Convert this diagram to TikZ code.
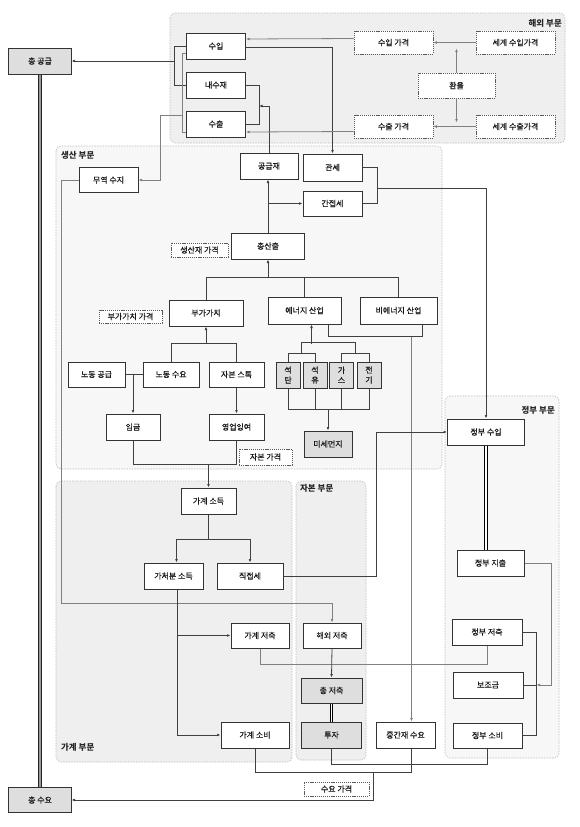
\documentclass[tikz,border=0pt]{standalone}
\usepackage{fontspec}
\setmainfont{Noto Sans CJK KR}
\newfontfamily\krmed[FakeBold=0.5]{Noto Sans CJK KR}
\usetikzlibrary{arrows.meta,calc}
\definecolor{regA}{HTML}{EFEFEF}
\definecolor{regB}{HTML}{F7F7F7}
\definecolor{gfill}{HTML}{DEDEDE}
\definecolor{txt}{HTML}{1A1A1A}
\newcommand{\mynodefont}{\krmed\fontsize{8}{10}\selectfont}
\newcommand{\mylabelfont}{\fontsize{8.5}{10}\selectfont\bfseries}
\begin{document}
\begin{tikzpicture}[x=1bp,y=-1bp,
  box/.style={draw=black!80, line width=1bp, fill=white, inner sep=0pt, font=\mynodefont, text=txt},
  gbox/.style={box, fill=gfill},
  pbox/.style={draw=black!65, dash pattern=on 1.2bp off 0.9bp, line width=0.6bp, fill=white, inner sep=0pt, font=\mynodefont, text=txt},
  region/.style={draw=black!25, dash pattern=on 1.5bp off 1.2bp, line width=0.6bp, rounded corners=5bp},
  dk/.style={draw=black!75, line width=0.8bp},
  lt/.style={draw=black!50, line width=0.8bp},
  arr/.style={-{Latex[length=3.5bp,width=2.8bp]}},
  dbl/.style={draw=black, line width=0.8bp, double=white, double distance=1.6bp},
  dblg/.style={draw=black!85, line width=0.7bp, double=black!40, double distance=2.2bp},
  rlabel/.style={font=\mylabelfont, text=black!85, inner sep=0pt},
  sz/.style 2 args={minimum width=#1bp, minimum height=#2bp},
]
\useasboundingbox (0,0) rectangle (580,827);
\fill[white] (0,0) rectangle (580,827);
% regions
\draw[region, fill=regA] (170,13) rectangle (565,143);
\draw[region, fill=regB] (56,146) rectangle (442,469);
\draw[region, fill=regA] (56,481) rectangle (292,762);
\draw[region, fill=regA] (296,481) rectangle (366,760);
\draw[region, fill=regB] (445,396) rectangle (559,758);
\node[rlabel, anchor=east] (lhaeoe) at (562,23) {해외 부문};
\node[rlabel, anchor=west] (lsaeng) at (61,155) {생산 부문};
\node[rlabel, anchor=west] (lgagye) at (61,747) {가계 부문};
\node[rlabel, anchor=west] (ljabon) at (300,488) {자본 부문};
\node[rlabel, anchor=east] (ljeongbu) at (555,410) {정부 부문};
% nodes
\node[gbox, sz={62}{26}] (gongup) at (40,61) {총 공급};
\node[gbox, sz={62}{25}] (chsuyo) at (40,800) {총 수요};
\node[box, sz={59}{26}] (suip) at (216,46) {수입};
\node[box, sz={59}{26}] (naesu) at (216,85) {내수재};
\node[box, sz={59}{26}] (suchul) at (216,124) {수출};
\node[box, sz={58}{26}] (gonggeup) at (269,166) {공급재};
\node[box, sz={59}{25}] (muyeok) at (108.5,180) {무역 수지};
\node[pbox, sz={79}{23}] (sipga) at (393.5,42.5) {수입 가격};
\node[pbox, sz={79}{23}] (wsip) at (515.5,42.5) {세계 수입가격};
\node[pbox, sz={77}{25}] (hwan) at (456.5,85.5) {환율};
\node[pbox, sz={79}{23}] (schga) at (393.5,126.5) {수출 가격};
\node[pbox, sz={79}{23}] (wsch) at (515.5,126.5) {세계 수출가격};
\node[box, sz={59}{27}] (gwanse) at (332.5,167.5) {관세};
\node[box, sz={59}{25}] (ganjeop) at (332.5,203.5) {간접세};
\node[box, sz={73}{26}] (chong) at (268,246) {총산출};
\node[pbox, sz={57}{14}] (sjga) at (199.5,250) {생산재 가격};
\node[box, sz={74}{26}] (bugachi) at (206,313) {부가가치};
\node[pbox, sz={63}{13}] (bgga) at (130.5,316.5) {부가가치 가격};
\node[box, sz={73}{27}] (energy) at (304.5,310.5) {에너지 산업};
\node[box, sz={77}{27}] (bien) at (398.5,310.5) {비에너지 산업};
\node[box, sz={57}{25}] (ngong) at (96.5,374.5) {노동 공급};
\node[box, sz={56}{25}] (nsuyo) at (171,374.5) {노동 수요};
\node[box, sz={55}{25}] (jabon) at (236.5,374.5) {자본 스톡};
\node[box, sz={54}{26}] (imgeum) at (133,427) {임금};
\node[box, sz={55}{26}] (yeongeop) at (236.5,427) {영업잉여};
\node[gbox, sz={24}{26}, align=center] (seoktan) at (288,375) {석\\탄};
\node[gbox, sz={24}{26}, align=center] (seokyu) at (315,375) {석\\유};
\node[gbox, sz={24}{26}, align=center] (gas) at (341.5,375) {가\\스};
\node[gbox, sz={24}{26}, align=center] (elec) at (369,375) {전\\기};
\node[gbox, sz={48}{26}] (misae) at (328,444) {미세먼지};
\node[pbox, sz={53}{16}] (jbga) at (265.5,457) {자본 가격};
\node[box, sz={77}{26}] (jsuip) at (486,432) {정부 수입};
\node[box, sz={67}{26}] (jjichul) at (490.5,563) {정부 지출};
\node[box, sz={55}{26}] (gsodeuk) at (208.5,501) {가계 소득};
\node[box, sz={59}{26}] (gcheo) at (173.5,576) {가처분 소득};
\node[box, sz={66}{26}] (jikjeop) at (250,576) {직접세};
\node[box, sz={58}{25}] (gjeochuk) at (260,635.5) {가계 저축};
\node[box, sz={58}{25}] (haeoe) at (332,635.5) {해외 저축};
\node[gbox, sz={61}{25}] (chjeo) at (331.5,690.5) {총 저축};
\node[gbox, sz={60}{26}] (tuja) at (331.5,735) {투자};
\node[box, sz={68}{26}] (gsobi) at (255,735) {가계 소비};
\node[box, sz={59}{26}] (jgan) at (405.5,735) {중간재 수요};
\node[box, sz={70}{26}] (jjeochuk) at (487,632) {정부 저축};
\node[box, sz={70}{26}] (bojo) at (488,685) {보조금};
\node[box, sz={69}{25}] (jsobi) at (487.5,735.5) {정부 소비};
\node[pbox, sz={65}{14}] (sdga) at (336.5,789) {수요 가격};
% total supply / demand
\draw[dblg] (gongup.south) -- (chsuyo.north);
\draw[dk] (suip.west) -- ++(-12,0) coordinate (j1) |- (naesu.west);
\draw[dk,arr] (j1 |- gongup.east) -- (gongup.east);
% trade balance
\draw[lt] ([yshift=-7bp]suip.west) -| ([xshift=-4bp,yshift=-8bp]suchul.west) -- ([yshift=-8bp]suchul.west);
\draw[lt,arr] ([xshift=-4bp,yshift=9bp]suchul.west) -- ++(-22,0) |- (muyeok.east);
\draw[lt,arr] (muyeok.west) -- ++(-17,0) -- ++(0,423) -| (haeoe.north);
% supply goods
\draw[dk] (naesu.east) -- ++(13,0) coordinate (j4) |- (suchul.east);
\draw[dk,arr] (gonggeup.north) |- ([yshift=-21bp]j4);
% prices
\draw[lt,arr] ([yshift=4bp]sipga.west) -- ([yshift=7bp]suip.east);
\draw[dk,arr] ([yshift=-1bp]suip.east) -| (gwanse.north);
\draw[lt,arr] ([yshift=-5bp]schga.west) -- ([yshift=-8bp]suchul.east);
\draw[lt,arr] (wsip.west) -- (sipga.east);
\draw[lt,arr] (wsch.west) -- (schga.east);
\coordinate (hw1) at (hwan.north |- wsip.center);
\coordinate (hw2) at (hwan.south |- wsch.center);
\draw[lt,arr] (hwan.north) -- ([yshift=-6bp]hw1);
\draw[lt,arr] (hwan.south) -- ([yshift=4bp]hw2);
% output
\draw[dk,arr] (chong.north) -- (chong.north |- gonggeup.south);
\draw[dk,arr] (chong.north |- ganjeop.west) -- (ganjeop.west);
\draw[dk] (gwanse.east) -- ++(15,0) coordinate (j11) |- (ganjeop.east);
\draw[dk,arr] ([yshift=-21bp]j11) -| (jsuip.north);
\draw[dk] (bugachi.north) -- ++(0,-22) coordinate (j12) -| (bien.north);
\draw[dk] (energy.north) -- (energy.north |- j12);
\draw[dk,arr] (j12 -| chong.south) -- (chong.south);
% value added
\draw[dk] (nsuyo.north) -- ++(0,-18) coordinate (j13) -| (jabon.north);
\draw[dk,arr] (j13 -| bugachi.south) -- (bugachi.south);
\draw[dk] (ngong.east) -- (nsuyo.west);
\draw[dk,arr] (ngong.east -| imgeum.north) -- (imgeum.north);
\draw[dk,arr] (jabon.south) -- (yeongeop.north);
\draw[dk] (imgeum.south) -- ++(0,24) coordinate (j16) -| (yeongeop.south);
\draw[dk,arr,line width=1.1bp] (j16 -| gsodeuk.north) -- (gsodeuk.north);
% energy
\draw[dk] (seoktan.north) -- ++(0,-8) -| (seokyu.north);
\draw[dk] (gas.north) -- ++(0,-8) -| (elec.north);
\coordinate (m1) at ($(seoktan.north)!0.5!(seokyu.north)+(0,-8)$);
\coordinate (m2) at ($(gas.north)!0.5!(elec.north)+(0,-8)$);
\draw[dk] (m1) -- ++(0,-11) -| (m2);
\draw[dk,arr] ([xshift=7bp]energy.south) ++(0,19) -- ++(0,-19);
\draw[dk] (seoktan.south) -- ++(0,21) coordinate (b1) -| (elec.south);
\draw[dk] (seokyu.south) -- (seokyu.south |- b1);
\draw[dk] (gas.south) -- (gas.south |- b1);
\draw[dk,arr] (b1 -| misae.north) -- (misae.north);
\draw[dk] ([xshift=24bp]energy.south) -- ++(0,12) coordinate (e1) -| ([xshift=24bp]bien.south);
\coordinate (jg) at ([xshift=6bp]jgan.north);
\coordinate (jgb) at ([xshift=6bp]jgan.south);
\draw[lt,arr] (jg |- e1) -- (jg);
% taxes
\draw[dk,arr] (jikjeop.east) -- ++(93,0) |- (jsuip.west);
% household
\draw[dk] (gsodeuk.south) -- ++(0,25) coordinate (g1);
\draw[dk,arr] (g1) -| ([xshift=3bp]gcheo.north);
\draw[dk,arr] (g1) -| (jikjeop.north);
\coordinate (gc) at ([xshift=4bp]gcheo.south);
\draw[dk,arr] (gc) |- (gsobi.west);
\draw[dk,arr] (gc |- gjeochuk.west) -- (gjeochuk.west);
\draw[lt] (gjeochuk.south) -- ++(0,16) -| (jjeochuk.south);
\draw[dk,arr] (haeoe.south) -- (chjeo.north);
\draw[dbl] (chjeo.south) -- (tuja.north);
% government
\draw[dbl] (jsuip.south) -- (jsuip.south |- jjichul.north);
\draw[dk] (jjeochuk.east) -- ++(14,0) |- (jsobi.east);
\draw[dk] (bojo.east) -- ++(13,0);
\draw[lt,arr] (jjichul.east) -- ++(27,0) |- ([xshift=13bp]bojo.east);
% demand
\draw[dk] (gsobi.south) -- ++(0,24) -| (jgb);
\draw[dk] (tuja.south) -- ++(0,16) -| (jsobi.south);
\coordinate (dj) at (373,772);
\draw[dk,arr] (dj) |- (chsuyo.east);
\end{tikzpicture}
\end{document}
